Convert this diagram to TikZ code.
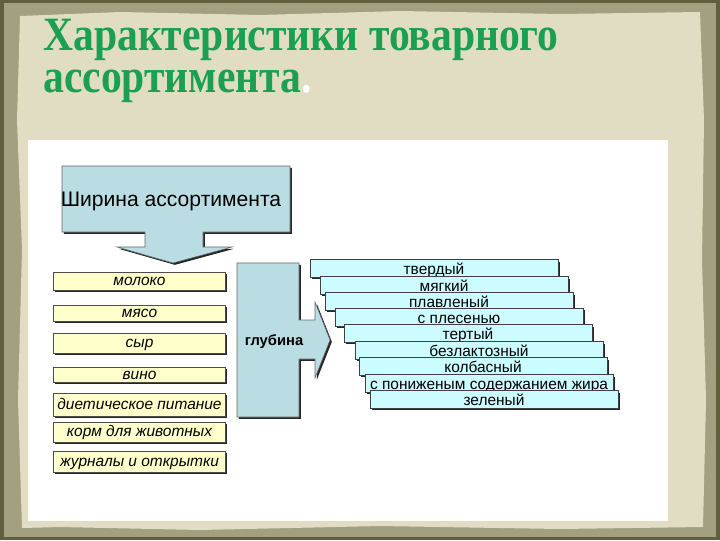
\documentclass[tikz,border=0pt]{standalone}
\usepackage{fontspec}
\setmainfont{Liberation Serif}
\setsansfont{Liberation Sans}
\usetikzlibrary{shadows}

\definecolor{framedark}{HTML}{5F5E3F}
\definecolor{framerim}{HTML}{A3A07F}
\definecolor{paper}{HTML}{E0DDC2}
\definecolor{titlegreen}{HTML}{1AA050}
\definecolor{arrowblue}{HTML}{BADDE3}
\definecolor{itemyellow}{HTML}{FFFFCC}
\definecolor{kindcyan}{HTML}{CCFCFF}

\begin{document}
\begin{tikzpicture}[
  x=0.025cm, y=-0.025cm,
  shade/.style={drop shadow={shadow xshift=1.3pt, shadow yshift=-1.3pt, fill=black!85, opacity=1}},
  title/.style={anchor=north west, inner sep=0pt, text=titlegreen, align=left,
    font=\bfseries\fontsize{34}{29.8}\selectfont\addfontfeature{FakeStretch=0.87}},
  bigarrow/.style={draw=black!60, fill=arrowblue, shade},
  item/.style={draw=black!70, fill=itemyellow, minimum width=4.3cm, inner sep=0pt,
    text height=7pt, text depth=0pt, font=\sffamily\itshape\fontsize{11}{12}\selectfont, shade},
  kind/.style={draw=black!75, fill=kindcyan, minimum width=6.2cm, minimum height=0.44cm,
    inner sep=0pt, text height=9pt, text depth=0pt, font=\sffamily\fontsize{11}{12}\selectfont, shade}
]
\useasboundingbox (0,0) rectangle (720,540);

% --- background: frame, torn paper, white panel ---
\fill[framedark] (0,0) rectangle (720,540);
\fill[framerim] (4,3) rectangle (716,537);
\fill[paper] (20,16) -- (120,12) -- (260,15) -- (400,11) -- (560,14) -- (700,12)
  -- (704,120) -- (702,260) -- (706,400) -- (703,527) -- (560,529) -- (380,526)
  -- (200,530) -- (60,527) -- (22,528) -- (18,400) -- (22,250) -- (17,120) -- cycle;
\fill[white] (28,140) rectangle (668,521);

% --- title ---
\node[title] (title) at (43,19) {Характеристики товарного\\ассортимента\textcolor{white}{.}};

% --- width arrow ---
\draw[bigarrow] (62,166) -- (290,166) -- (290,232) -- (203,232) -- (203,247)
  -- (232,247) -- (173,263) -- (117,247) -- (145,247) -- (145,232) -- (62,232) -- cycle;
\node[anchor=base, font=\sffamily\fontsize{15}{18}\selectfont] (width) at (171,206) {Ширина ассортимента};

% --- product groups ---
\node[item, minimum height=0.45cm]  (milk)   at (139.5,281)   {молоко};
\node[item, minimum height=0.40cm]  (meat)   at (139.5,313)   {мясо};
\node[item, minimum height=0.50cm]  (cheese) at (139.5,343)   {сыр};
\node[item, minimum height=0.38cm]  (wine)   at (139.5,374.5) {вино};
\node[item, minimum height=0.57cm]  (diet)   at (139.5,404.5) {диетическое питание};
\node[item, minimum height=0.50cm]  (feed)   at (139.5,432)   {корм для животных};
\node[item, minimum height=0.53cm]  (press)  at (139.5,461.5) {журналы и открытки};

% --- depth arrow ---
\draw[bigarrow] (237,263) -- (299,263) -- (299,320) -- (315,320) -- (315,302)
  -- (330,340) -- (315,378) -- (315,359) -- (299,359) -- (299,417) -- (237,417) -- cycle;
\node[anchor=base, font=\sffamily\bfseries\fontsize{10.5}{12}\selectfont] (depth) at (274,345) {глубина};

% --- kinds of cheese ---
\node[kind] (hard)    at (434,268.5) {твердый};
\node[kind] (soft)    at (444,285.5) {мягкий};
\node[kind] (melted)  at (449,301.5) {плавленый};
\node[kind] (mould)   at (459,317)   {с плесенью};
\node[kind] (grated)  at (468,333.5) {тертый};
\node[kind] (lactose) at (479,350.5) {безлактозный};
\node[kind] (sausage) at (483,366.5) {колбасный};
\node[kind] (lowfat)  at (489,383.5) {с пониженым содержанием жира};
\node[kind] (green)   at (494,399.5) {зеленый};

\end{tikzpicture}
\end{document}
